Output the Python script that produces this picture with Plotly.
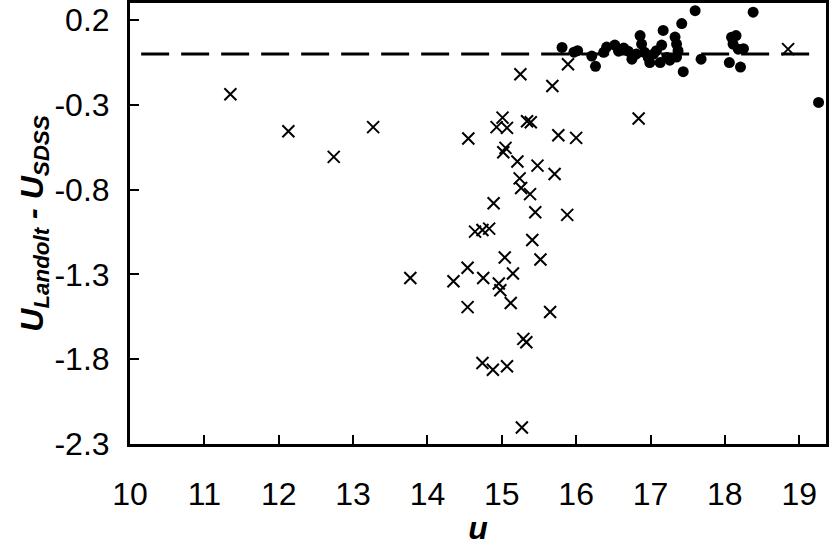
import plotly.graph_objects as go

# crosses (x) : u magnitude vs U_Landolt - U_SDSS
cross_u = [11.35, 12.13, 12.74, 13.27, 13.77, 15.25, 15.89, 15.68, 15.01, 14.93,
           15.07, 15.34, 15.39, 14.55, 15.76, 16.00, 15.05, 15.02, 15.21, 15.48,
           15.71, 15.24, 15.26, 15.38, 14.89, 15.45, 15.88, 14.64, 14.74, 14.83,
           15.41, 15.04, 15.52, 14.54, 15.15, 14.75, 14.35, 14.96, 14.98, 15.12,
           14.54, 15.65, 15.29, 15.33, 14.74, 14.88, 15.07, 15.27, 16.84, 18.85]
cross_d = [-0.238, -0.456, -0.607, -0.432, -1.321, -0.120, -0.061, -0.189, -0.376, -0.432,
           -0.436, -0.397, -0.403, -0.499, -0.480, -0.495, -0.554, -0.580, -0.634, -0.659,
           -0.708, -0.734, -0.791, -0.827, -0.881, -0.934, -0.949, -1.048, -1.038, -1.030,
           -1.097, -1.200, -1.212, -1.261, -1.295, -1.321, -1.340, -1.354, -1.394, -1.469,
           -1.493, -1.522, -1.680, -1.700, -1.822, -1.862, -1.842, -2.203, -0.381, 0.028]

# filled dots
dot_u = [15.81, 15.97, 16.02, 16.21, 16.26, 16.37, 16.41, 16.52, 16.57, 16.64,
         16.70, 16.75, 16.81, 16.86, 16.88, 16.92, 16.97, 16.99, 17.04, 17.08,
         17.13, 17.15, 17.17, 17.22, 17.26, 17.33, 17.35, 17.37, 17.35, 17.42,
         17.44, 17.60, 17.68, 18.09, 18.15, 18.11, 18.18, 18.25, 18.06, 18.21,
         18.38, 19.26]
dot_d = [0.038, 0.010, 0.019, -0.013, -0.073, 0.009, 0.040, 0.052, 0.016, 0.034,
         0.016, -0.031, 0.000, 0.108, 0.058, 0.009, -0.021, -0.051, -0.001, 0.019,
         -0.051, 0.052, 0.138, -0.021, -0.037, 0.099, 0.058, 0.019, -0.019, 0.179,
         -0.105, 0.255, -0.031, 0.098, 0.108, 0.058, 0.028, 0.031, -0.051, -0.078,
         0.246, -0.286]

# zero reference line
ref_u = [10.15, 19.2]
ref_d = [0, 0]

x_ticks = [10, 11, 12, 13, 14, 15, 16, 17, 18, 19]
y_ticks = [-2.3, -1.8, -1.3, -0.8, -0.3, 0.2]
y_ticklabels = ["-2.3", "-1.8", "-1.3", "-0.8", "-0.3", "0.2"]

fig = go.Figure()
fig.add_trace(go.Scatter(
    x=ref_u, y=ref_d, mode="lines",
    line=dict(color="black", width=3, dash="28px,12px"),
    hoverinfo="skip",
))
fig.add_trace(go.Scatter(
    x=cross_u, y=cross_d, mode="markers",
    marker=dict(symbol="x-thin", size=12, line=dict(color="black", width=2)),
))
fig.add_trace(go.Scatter(
    x=dot_u, y=dot_d, mode="markers",
    marker=dict(symbol="circle", size=11, color="black", line=dict(width=0)),
))

axis_common = dict(
    showgrid=False, zeroline=False, automargin=False,
    showline=True, linecolor="black", linewidth=3, mirror=True,
    ticks="inside", ticklen=9, tickwidth=2, tickcolor="black",
    tickfont=dict(family="Liberation Sans", size=32, color="black"),
)

fig.update_layout(
    width=830, height=546,
    plot_bgcolor="white", paper_bgcolor="white",
    showlegend=False,
    margin=dict(l=130, r=4, t=3, b=102),
    font=dict(family="Liberation Sans", size=32, color="black"),
    xaxis=dict(
        range=[10, 19.36], tickvals=x_ticks, ticklabelstandoff=20,
        title=dict(text="<b><i>u</i></b>", standoff=0,
                   font=dict(family="Liberation Sans", size=32)),
        **axis_common,
    ),
    yaxis=dict(
        range=[-2.3, 0.3], tickvals=y_ticks, ticktext=y_ticklabels,
        ticklabelstandoff=11,
        title=dict(text="<b><i>U<sub>Landolt</sub> - U<sub>SDSS</sub></i></b>",
                   standoff=2, font=dict(family="Liberation Sans", size=32)),
        **axis_common,
    ),
)

fig.write_html("out.html", config={"displayModeBar": False},
               post_script="document.body.style.margin='0';")
